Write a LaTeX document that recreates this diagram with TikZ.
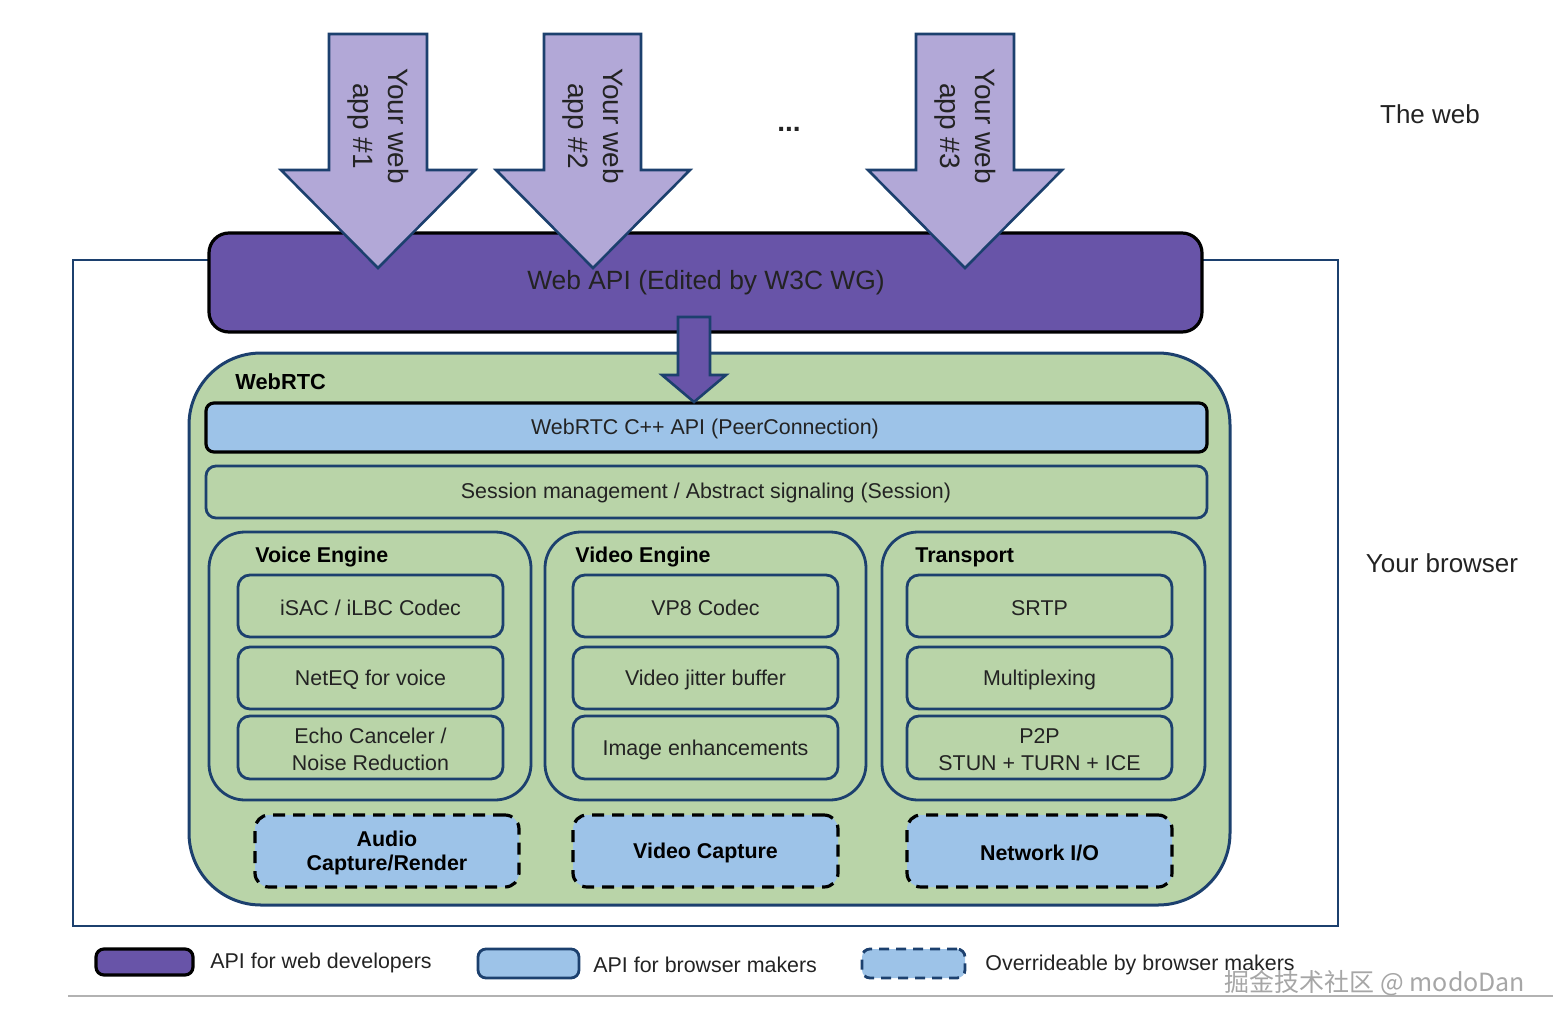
\documentclass[tikz,border=0pt]{standalone}
\usepackage{fontspec}
\setmainfont{Liberation Sans}
\newfontfamily\cjk{Noto Sans CJK SC}
\usetikzlibrary{fit}
\definecolor{apipurple}{RGB}{104,84,168}
\definecolor{lav}{RGB}{178,168,215}
\definecolor{rtcgreen}{RGB}{185,212,168}
\definecolor{lblue}{RGB}{157,195,232}
\definecolor{navy}{RGB}{28,64,110}
\definecolor{txt}{RGB}{35,35,35}
\begin{document}
\begin{tikzpicture}[x=0.5pt,y=-0.5pt,
  body/.style={font=\fontsize{10.7}{13.5}\selectfont, text=txt, align=center, yshift=-1pt},
  bodyb/.style={font=\bfseries\fontsize{10.7}{12}\selectfont, text=black, align=center, yshift=-1pt},
  head/.style={font=\bfseries\fontsize{10.7}{13}\selectfont, text=black, anchor=west, inner sep=0pt, yshift=-1pt},
  outerbox/.style={draw=navy, line width=1.1pt},
  webapi/.style={draw=black, fill=apipurple, line width=1.6pt, rounded corners=10pt, inner sep=0pt},
  rtcbox/.style={draw=navy, fill=rtcgreen, line width=1.5pt, rounded corners=36pt, inner sep=0pt},
  cppbox/.style={draw=black, fill=lblue, line width=1.6pt, rounded corners=4pt, inner sep=0pt},
  sessbox/.style={draw=navy, fill=rtcgreen, line width=1.4pt, rounded corners=5pt, inner sep=0pt},
  groupbox/.style={draw=navy, line width=1.4pt, rounded corners=18pt, inner sep=0pt},
  inbox/.style={draw=navy, line width=1.4pt, rounded corners=6pt, inner sep=0pt},
  dbox/.style={draw=black, fill=lblue, line width=1.6pt, dash pattern=on 6pt off 4pt, rounded corners=7pt, inner sep=0pt},
  bigarrow/.style={fill=lav, draw=navy, line width=1.3pt, line join=miter},
  smallarrow/.style={fill=apipurple, draw=navy, line width=1.3pt, line join=miter},
  apptext/.style={font=\fontsize{14}{17.5}\selectfont, text=txt, align=center, rotate=-90},
  side/.style={font=\fontsize{13}{15}\selectfont, text=txt},
  legtext/.style={font=\fontsize{10.7}{13}\selectfont, text=txt, anchor=west, inner sep=0pt, yshift=-0.5pt}
]
\useasboundingbox (0,0) rectangle (1553,1023);

% browser frame
\node (browser) [outerbox, inner sep=0pt, fit={(73,260) (1338,926)}] {};

% Web API
\node (webapi) [webapi, fit={(209,233) (1202,332)}] {};
\node (webapitext) at (706,283) [font=\fontsize{13.2}{15}\selectfont, text=txt] {Web API (Edited by W3C WG)};

% top arrows
\draw[bigarrow] (329,34) -- (427,34) -- (427,170) -- (475,170) -- (378,268) -- (281,170) -- (329,170) -- cycle;
\draw[bigarrow] (544,34) -- (641,34) -- (641,170) -- (690,170) -- (593,268) -- (496,170) -- (544,170) -- cycle;
\draw[bigarrow] (916,34) -- (1014,34) -- (1014,170) -- (1062,170) -- (965,268) -- (868,170) -- (916,170) -- cycle;
\node (app1) at (378,126) [apptext] {Your web\\app \#1};
\node (app2) at (593,126) [apptext] {Your web\\app \#2};
\node (app3) at (965,126) [apptext] {Your web\\app \#3};
\node (dots) at (789,129) [font=\bfseries\fontsize{14}{16}\selectfont, text=txt] {...};

\node (theweb) at (1430,114) [side] {The web};
\node (yourbrowser) at (1442,563) [side] {Your browser};

% WebRTC
\node (webrtc) [rtcbox, fit={(189,353) (1230,905)}] {};
\node (webrtclabel) at (235,380) [head, font=\bfseries\fontsize{10.9}{13}\selectfont] {WebRTC};
\node (cpp) [cppbox, fit={(206,403) (1207,452)}] {};
\node (cpptext) at (705,427) [body] {WebRTC C++ API (PeerConnection)};
\node (sess) [sessbox, fit={(206,466) (1207,518)}] {};
\node (sesstext) at (706,491) [body] {Session management / Abstract signaling (Session)};

\draw[smallarrow] (678,317) -- (710,317) -- (710,375) -- (726,375) -- (694,402) -- (662,375) -- (678,375) -- cycle;

% groups
\node (voice) [groupbox, fit={(209,532) (531,800)}] {};
\node (video) [groupbox, fit={(545,532) (866,800)}] {};
\node (transport) [groupbox, fit={(882,532) (1205,800)}] {};
\node (voicelabel) at (255,555) [head] {Voice Engine};
\node (videolabel) at (575,555) [head] {Video Engine};
\node (translabel) at (915,555) [head] {Transport};

% voice
\node (isac) [inbox, fit={(238,575) (503,637)}] {};
\node (isact) at (isac.center) [body] {iSAC / iLBC Codec};
\node (neteq) [inbox, fit={(238,647) (503,709)}] {};
\node (neteqt) at (neteq.center) [body] {NetEQ for voice};
\node (echo) [inbox, fit={(238,716) (503,779)}] {};
\node (echot) at (echo.center) [body] {Echo Canceler /\\Noise Reduction};

% video
\node (vp8) [inbox, fit={(573,575) (838,637)}] {};
\node (vp8t) at (vp8.center) [body] {VP8 Codec};
\node (jitter) [inbox, fit={(573,647) (838,709)}] {};
\node (jittert) at (jitter.center) [body] {Video jitter buffer};
\node (image) [inbox, fit={(573,716) (838,779)}] {};
\node (imaget) at (image.center) [body] {Image enhancements};

% transport
\node (srtp) [inbox, fit={(907,575) (1172,637)}] {};
\node (srtpt) at (srtp.center) [body] {SRTP};
\node (mux) [inbox, fit={(907,647) (1172,709)}] {};
\node (muxt) at (mux.center) [body] {Multiplexing};
\node (p2p) [inbox, fit={(907,716) (1172,779)}] {};
\node (p2pt) at (p2p.center) [body] {P2P\\STUN + TURN + ICE};

% dashed
\node (audio) [dbox, fit={(255,815) (519,887)}] {};
\node (audiot) at (audio.center) [bodyb] {Audio\\Capture/Render};
\node (vcap) [dbox, fit={(573,815) (838,887)}] {};
\node (vcapt) at (vcap.center) [bodyb] {Video Capture};
\node (netio) [dbox, fit={(907,815) (1172,887)}] {};
\node (netiot) at (netio.center) [bodyb] {Network I/O};

% legend
\node (leg1) [draw=black, fill=apipurple, line width=1.6pt, rounded corners=4pt, inner sep=0pt, fit={(96,949) (193,975)}] {};
\node (leg1t) at (210,962) [legtext] {API for web developers};
\node (leg2) [draw=navy, fill=lblue, line width=1.4pt, rounded corners=4pt, inner sep=0pt, fit={(478,949) (579,978)}] {};
\node (leg2t) at (593,964) [legtext] {API for browser makers};
\node (leg3) [draw=navy, fill=lblue, line width=1.4pt, dash pattern=on 5pt off 3.5pt, rounded corners=4pt, inner sep=0pt, fit={(862,949) (965,978)}] {};
\node (leg3t) at (985,964) [legtext] {Overrideable by browser makers};

\coordinate (lineL) at (68,996);
\coordinate (lineR) at (1553,996);
\draw[gray!60, line width=1pt] (lineL) -- (lineR);

\node (wm) at (1375,983) [font=\cjk\fontsize{12.5}{14}\selectfont, text=gray!70] {掘金技术社区 @ modoDan};
\end{tikzpicture}
\end{document}
